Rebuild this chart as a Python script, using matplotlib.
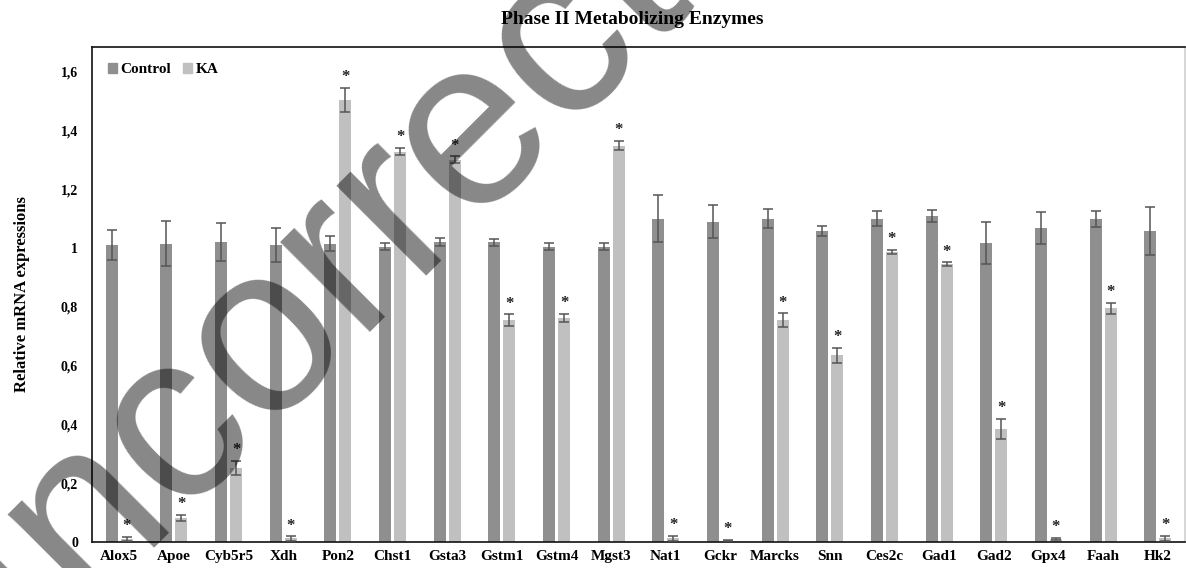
import matplotlib
matplotlib.use("Agg")
import matplotlib.pyplot as plt
from matplotlib.patches import Patch
from matplotlib.ticker import FuncFormatter
import numpy as np

genes = ["Alox5", "Apoe", "Cyb5r5", "Xdh", "Pon2", "Chst1", "Gsta3", "Gstm1",
         "Gstm4", "Mgst3", "Nat1", "Gckr", "Marcks", "Snn", "Ces2c", "Gad1",
         "Gad2", "Gpx4", "Faah", "Hk2"]

control_mean = [1.01, 1.015, 1.02, 1.01, 1.015, 1.005, 1.02, 1.02, 1.005, 1.005,
                1.10, 1.09, 1.10, 1.058, 1.10, 1.11, 1.017, 1.068, 1.10, 1.058]
control_err = [0.05, 0.077, 0.065, 0.058, 0.025, 0.012, 0.014, 0.012, 0.012, 0.012,
               0.08, 0.057, 0.032, 0.017, 0.025, 0.02, 0.07, 0.055, 0.027, 0.082]

ka_mean = [0.011, 0.082, 0.252, 0.012, 1.505, 1.328, 1.30, 0.754, 0.762, 1.348,
           0.012, 0.004, 0.754, 0.635, 0.986, 0.945, 0.385, 0.010, 0.795, 0.012]
ka_err = [0.006, 0.010, 0.024, 0.007, 0.041, 0.013, 0.012, 0.020, 0.015, 0.016,
          0.010, 0.002, 0.024, 0.025, 0.007, 0.006, 0.035, 0.004, 0.019, 0.008]

yticks = [0, 0.2, 0.4, 0.6, 0.8, 1.0, 1.2, 1.4, 1.6]

serif = "Liberation Serif"
c_control = "#8f8f8f"
c_ka = "#c0c0c0"
c_err = "#555555"

fig = plt.figure(figsize=(11.86, 5.68), dpi=100)
ax = fig.add_axes([92 / 1186, 1 - 542 / 568, (1185 - 92) / 1186, (542 - 47) / 568])

x = np.arange(len(genes))
w = 0.22
off = 0.137

ax.bar(x - off, control_mean, w, color=c_control, zorder=2)
ax.bar(x + off, ka_mean, w, color=c_ka, zorder=2)
ax.errorbar(x - off, control_mean, yerr=control_err, fmt="none", ecolor=c_err,
            elinewidth=1.1, capsize=3.6, capthick=1.1, zorder=3)
ax.errorbar(x + off, ka_mean, yerr=ka_err, fmt="none", ecolor=c_err,
            elinewidth=1.1, capsize=3.6, capthick=1.1, zorder=3)

# significance markers above every KA bar
for xi, m, e in zip(x + off, ka_mean, ka_err):
    ax.annotate("*", (xi, m + e), xytext=(0, 2), textcoords="offset points",
                ha="center", va="bottom", fontsize=12, fontweight="bold",
                family=serif, color="#222222")

ax.set_xlim(-0.5, len(genes) - 0.5)
ax.set_ylim(0, 1.684)
ax.set_yticks(yticks)
ax.yaxis.set_major_formatter(FuncFormatter(
    lambda v, p: "0" if v == 0 else ("1" if abs(v - 1) < 1e-9 else f"{v:.1f}".replace(".", ","))))
ax.set_xticks(x)
ax.set_xticklabels(genes)
ax.tick_params(axis="both", length=0)
ax.tick_params(axis="y", pad=10)
ax.tick_params(axis="x", pad=6)
for lab in ax.get_xticklabels():
    lab.set_fontfamily(serif)
    lab.set_fontweight("bold")
    lab.set_fontsize(11)
for lab in ax.get_yticklabels():
    lab.set_fontfamily(serif)
    lab.set_fontweight("bold")
    lab.set_fontsize(10)
for sp in ax.spines.values():
    sp.set_color("#111111")
    sp.set_linewidth(1.2)
ax.spines["right"].set_color("#d0d0d0")

ax.set_ylabel("Relative mRNA expressions", family=serif, fontweight="bold",
              fontsize=12, labelpad=22)
fig.text(632 / 1186, 1 - 19 / 568, "Phase II Metabolizing Enzymes", family=serif,
         fontweight="bold", fontsize=14, ha="center", va="center")

handles = [Patch(color=c_control, label="Control"), Patch(color=c_ka, label="KA")]
ax.legend(handles=handles, loc="upper left", ncol=2, frameon=False,
          handlelength=0.6, handleheight=0.6, handletextpad=0.2, columnspacing=0.8,
          bbox_to_anchor=(0.002, 0.995),
          prop={"family": serif, "weight": "bold", "size": 11})

# diagonal overlay lettering
fig.text(318 / 1186, 1 - 274 / 568, "Incorrect", family="Liberation Sans",
         fontsize=172, color="black", alpha=0.47, rotation=45,
         rotation_mode="anchor", ha="center", va="center", zorder=10)

fig.savefig("out.png", dpi=100)
